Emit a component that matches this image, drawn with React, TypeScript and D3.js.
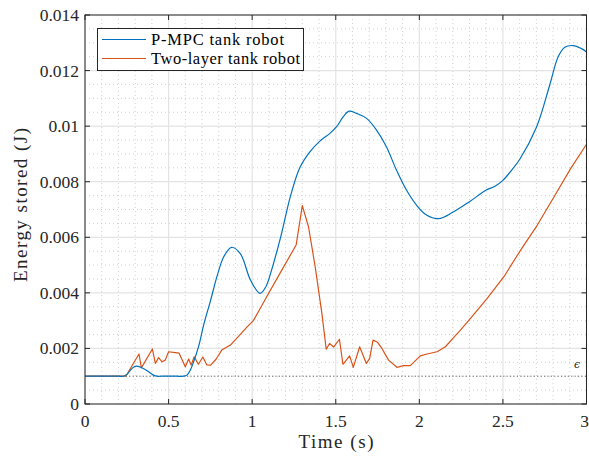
import React from "react";
import * as d3 from "d3";

const pmpcT = [0, 0.1, 0.2, 0.23, 0.25, 0.27, 0.29, 0.31, 0.33, 0.36, 0.39, 0.41, 0.43, 0.46, 0.5, 0.55, 0.59, 0.61, 0.63, 0.65, 0.68, 0.71, 0.75, 0.79, 0.83, 0.877, 0.93, 0.99, 1.047, 1.08, 1.11, 1.17, 1.23, 1.285, 1.345, 1.405, 1.465, 1.505, 1.545, 1.58, 1.624, 1.684, 1.744, 1.803, 1.863, 1.923, 1.983, 2.043, 2.115, 2.2, 2.3, 2.4, 2.45, 2.5, 2.55, 2.6, 2.7, 2.78, 2.83, 2.87, 2.92, 2.97, 3.0];
const pmpcE = [0.001, 0.001, 0.001, 0.001, 0.00106, 0.0012, 0.00132, 0.00136, 0.00133, 0.00124, 0.00112, 0.00104, 0.001, 0.001, 0.001, 0.001, 0.001, 0.00104, 0.00122, 0.00152, 0.00208, 0.00285, 0.0037, 0.0046, 0.0053, 0.00564, 0.0054, 0.00446, 0.00398, 0.0042, 0.0047, 0.006, 0.0075, 0.0085, 0.00907, 0.00946, 0.00974, 0.00998, 0.01034, 0.01054, 0.01046, 0.01028, 0.00986, 0.00926, 0.00842, 0.0077, 0.00716, 0.0068, 0.00667, 0.0069, 0.00728, 0.0077, 0.00783, 0.00805, 0.0084, 0.0088, 0.00995, 0.01148, 0.01249, 0.01284, 0.0129, 0.01279, 0.01267];

const twoT = [0, 0.244, 0.323, 0.337, 0.403, 0.421, 0.44, 0.461, 0.48, 0.5, 0.54, 0.563, 0.6, 0.62, 0.635, 0.653, 0.678, 0.705, 0.728, 0.752, 0.785, 0.818, 0.87, 0.928, 0.967, 1.007, 1.037, 1.087, 1.166, 1.263, 1.3, 1.337, 1.377, 1.417, 1.443, 1.463, 1.487, 1.522, 1.543, 1.583, 1.605, 1.643, 1.683, 1.703, 1.723, 1.75, 1.776, 1.816, 1.866, 1.906, 1.946, 2.006, 2.046, 2.106, 2.156, 2.206, 2.242, 2.306, 2.406, 2.506, 2.606, 2.706, 2.806, 2.906, 3.0];
const twoE = [0.001, 0.001, 0.0018, 0.0013, 0.00198, 0.00146, 0.00167, 0.00152, 0.00158, 0.00188, 0.00185, 0.00183, 0.00134, 0.00162, 0.0014, 0.0017, 0.00143, 0.00169, 0.00141, 0.0014, 0.00162, 0.00194, 0.00212, 0.0025, 0.00276, 0.003, 0.00332, 0.00386, 0.0047, 0.00572, 0.00714, 0.00638, 0.00494, 0.00326, 0.00197, 0.00218, 0.00205, 0.00233, 0.00143, 0.00173, 0.00132, 0.00206, 0.00146, 0.00164, 0.0023, 0.00222, 0.002, 0.00158, 0.00132, 0.00138, 0.00138, 0.00173, 0.0018, 0.00188, 0.00206, 0.0024, 0.00263, 0.00308, 0.0038, 0.00458, 0.00554, 0.00644, 0.00746, 0.00848, 0.00935];

const xTicks = [0, 0.5, 1, 1.5, 2, 2.5, 3];
const xTickLabels = ["0", "0.5", "1", "1.5", "2", "2.5", "3"];
const yTicks = [0, 0.002, 0.004, 0.006, 0.008, 0.01, 0.012, 0.014];
const yTickLabels = ["0", "0.002", "0.004", "0.006", "0.008", "0.01", "0.012", "0.014"];
const epsilon = 0.001;
const seriesNames = ["P-MPC tank robot", "Two-layer tank robot"];
const seriesColors = ["#0072BD", "#D95319"];

const W = 589;
const H = 456;
const L = 85, R = 586.5, T = 15, B = 404;
const FONT = "Liberation Serif, DejaVu Serif, serif";

export default function App() {
  const x = d3.scaleLinear().domain([0, 3]).range([L, R]);
  const y = d3.scaleLinear().domain([0, 0.014]).range([B, T]);

  const xMinor = d3.range(0, 31).map((i) => i / 10).filter((v) => Math.abs(v * 2 - Math.round(v * 2)) > 1e-6);
  const yMinor = d3.range(0, 29).map((i) => i * 0.0005).filter((_, i) => i % 4 !== 0);

  const blueLine = d3
    .line<number>()
    .x((_, i) => x(pmpcT[i]))
    .y((d) => y(d))
    .curve(d3.curveCatmullRom.alpha(0.5));
  const redLine = d3
    .line<number>()
    .x((_, i) => x(twoT[i]))
    .y((d) => y(d));

  const tickLen = 5;

  return (
    <svg width={W} height={H} style={{ position: "absolute", left: 0, top: 0, background: "#fff" }}>
      <rect x={0} y={0} width={W} height={H} fill="#fff" />
      {xMinor.map((v) => (
        <line key={"xm" + v} x1={x(v)} x2={x(v)} y1={T} y2={B} stroke="#c4c4c4" strokeWidth={0.8} strokeDasharray="1,3" />
      ))}
      {yMinor.map((v) => (
        <line key={"ym" + v} x1={L} x2={R} y1={y(v)} y2={y(v)} stroke="#c4c4c4" strokeWidth={0.8} strokeDasharray="1,3" />
      ))}
      {xTicks.map((v) => (
        <line key={"xg" + v} x1={x(v)} x2={x(v)} y1={T} y2={B} stroke="#e3e3e3" strokeWidth={1.2} />
      ))}
      {yTicks.map((v) => (
        <line key={"yg" + v} x1={L} x2={R} y1={y(v)} y2={y(v)} stroke="#e3e3e3" strokeWidth={1.2} />
      ))}
      <line x1={L} x2={R} y1={y(epsilon)} y2={y(epsilon)} stroke="#555" strokeWidth={0.9} strokeDasharray="1.2,2.2" />
      <text x={577} y={y(epsilon) - 8} fontFamily="DejaVu Serif, serif" fontStyle="italic" fontSize={11} textAnchor="middle" fill="#222">
        ϵ
      </text>
      <path d={redLine(twoE) || ""} fill="none" stroke={seriesColors[1]} strokeWidth={1.2} strokeLinejoin="round" />
      <path d={blueLine(pmpcE) || ""} fill="none" stroke={seriesColors[0]} strokeWidth={1.2} strokeLinejoin="round" />
      <rect x={L} y={T} width={R - L} height={B - T} fill="none" stroke="#262626" strokeWidth={1} />
      {xTicks.map((v) => (
        <g key={"xt" + v}>
          <line x1={x(v)} x2={x(v)} y1={B} y2={B - tickLen} stroke="#262626" strokeWidth={1} />
          <line x1={x(v)} x2={x(v)} y1={T} y2={T + tickLen} stroke="#262626" strokeWidth={1} />
        </g>
      ))}
      {yTicks.map((v) => (
        <g key={"yt" + v}>
          <line x1={L} x2={L + tickLen} y1={y(v)} y2={y(v)} stroke="#262626" strokeWidth={1} />
          <line x1={R} x2={R - tickLen} y1={y(v)} y2={y(v)} stroke="#262626" strokeWidth={1} />
        </g>
      ))}
      {xTicks.map((v, i) => (
        <text key={"xl" + v} x={i === xTicks.length - 1 ? x(v) - 2 : x(v)} y={427} textAnchor="middle" fontFamily={FONT} fontSize={17.5} fill="#262626">
          {xTickLabels[i]}
        </text>
      ))}
      {yTicks.map((v, i) => (
        <text key={"yl" + v} x={79} y={y(v) + 6} textAnchor="end" fontFamily={FONT} fontSize={17.5} fill="#262626">
          {yTickLabels[i]}
        </text>
      ))}
      <text x={336} y={448} textAnchor="middle" fontFamily={FONT} fontSize={19} fill="#262626" textLength={75} lengthAdjust="spacing">
        Time (s)
      </text>
      <text
        transform={`translate(27,205) rotate(-90)`}
        textAnchor="middle"
        fontFamily={FONT}
        fontSize={19}
        fill="#262626"
        textLength={154}
        lengthAdjust="spacing"
      >
        Energy stored (J)
      </text>
      <rect x={97.5} y={28.5} width={206} height={42} fill="#fff" stroke="#262626" strokeWidth={1} />
      {seriesNames.map((name, i) => (
        <g key={name}>
          <line x1={102} x2={146} y1={39.5 + i * 19} y2={39.5 + i * 19} stroke={seriesColors[i]} strokeWidth={1.2} />
          <text
            x={151}
            y={45 + i * 19}
            fontFamily={FONT}
            fontSize={16.5}
            fill="#000"
            textLength={i === 0 ? 133 : 149}
            lengthAdjust="spacing"
          >
            {name}
          </text>
        </g>
      ))}
    </svg>
  );
}
